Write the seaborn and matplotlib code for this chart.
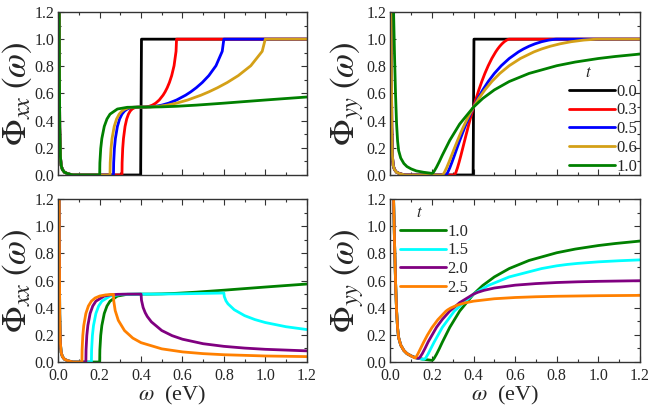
import numpy as np
import pandas as pd
import seaborn as sns
import matplotlib
matplotlib.use('Agg')
import matplotlib.pyplot as plt
from matplotlib.ticker import MultipleLocator, FormatStrFormatter

# ---- data (omega in eV) ----
# narrow low-energy spike (xx panels and yy for t < 1)
w_spike = [0.0, 0.003, 0.005, 0.007, 0.01, 0.014, 0.02, 0.03, 0.045, 0.07]
phi_spike = [5.0, 2.0, 0.9, 0.35, 0.14, 0.07, 0.04, 0.02, 0.01, 0.0]

# wider low-energy spike (yy for t >= 1)
w_spike_yy = [0.0, 0.01, 0.015, 0.02, 0.025, 0.03, 0.035, 0.04, 0.05, 0.065, 0.08, 0.1]
phi_spike_yy = [5.0, 2.0, 1.25, 0.9, 0.6, 0.38, 0.25, 0.18, 0.125, 0.085, 0.062, 0.045]

# t = 0.0
w_t00 = [0.398, 0.402, 1.2]
xx_t00 = [0.0, 1.0, 1.0]
yy_t00 = [0.0, 1.0, 1.0]

# t < 1 curves share the same shape values, only the omega positions move
xx_band = [0.0, 0.0895, 0.1955, 0.2684, 0.3576, 0.4123, 0.448, 0.4712, 0.4857, 0.4941,
           0.4983, 0.4998, 0.5, 0.5002, 0.5017, 0.5059, 0.5143, 0.5288, 0.552, 0.5877,
           0.612, 0.6424, 0.6809, 0.7316, 0.8045, 0.9105, 1.0, 1.0]
yy_band = [0.0, 0.0006, 0.0067, 0.0187, 0.052, 0.0941, 0.1424, 0.1955, 0.2523, 0.3119,
           0.3735, 0.4364, 0.5, 0.5636, 0.6265, 0.6881, 0.7477, 0.8045, 0.8576, 0.9059,
           0.9279, 0.948, 0.9659, 0.9813, 0.9933, 0.9994, 1.0, 1.0]

w_t03 = [0.3077, 0.3084, 0.3113, 0.315, 0.3226, 0.3306, 0.339, 0.3478, 0.3571, 0.367,
         0.3774, 0.3883, 0.4, 0.4124, 0.4255, 0.4396, 0.4545, 0.4706, 0.4878, 0.5063,
         0.5161, 0.5263, 0.5369, 0.5479, 0.5594, 0.569, 0.5714, 1.2]
w_t05 = [0.2667, 0.2676, 0.2712, 0.2759, 0.2857, 0.2963, 0.3077, 0.32, 0.3333, 0.3478,
         0.3636, 0.381, 0.4, 0.4211, 0.4444, 0.4706, 0.5, 0.5333, 0.5714, 0.6154,
         0.64, 0.6667, 0.6957, 0.7273, 0.7619, 0.7921, 0.8, 1.2]
w_t06 = [0.25, 0.2509, 0.2548, 0.2597, 0.2703, 0.2817, 0.2941, 0.3077, 0.3226, 0.339,
         0.3571, 0.3774, 0.4, 0.4255, 0.4545, 0.4878, 0.5263, 0.5714, 0.625, 0.6897,
         0.7273, 0.7692, 0.8163, 0.8696, 0.9302, 0.9852, 1.0, 1.2]

# t = 1.0
w_t10 = [0.2, 0.201, 0.2051, 0.2105, 0.2222, 0.2353, 0.25, 0.2857, 0.3333, 0.4,
         0.4444, 0.5, 0.5714, 0.6667, 0.8, 0.8889, 1.0, 1.0811, 1.2]
xx_t10 = [0.0, 0.0895, 0.1955, 0.2684, 0.3576, 0.4123, 0.448, 0.4857, 0.4983, 0.5,
          0.5002, 0.5017, 0.5059, 0.5143, 0.5288, 0.5392, 0.552, 0.561, 0.5741]
w_t10_yy = [0.125, 0.16, 0.2, 0.2051, 0.2105, 0.2222, 0.2353, 0.25, 0.2857, 0.3333, 0.4,
            0.4444, 0.5, 0.5714, 0.6667, 0.8, 0.8889, 1.0, 1.0811, 1.2]
yy_t10 = [0.03, 0.02, 0.012, 0.016, 0.027, 0.058, 0.098, 0.146, 0.255, 0.375, 0.5,
          0.5636, 0.6265, 0.6881, 0.7477, 0.8045, 0.8316, 0.8576, 0.8725, 0.8904]

# t = 1.5
w_t15 = [0.16, 0.161, 0.1649, 0.1702, 0.1818, 0.1951, 0.2105, 0.25, 0.3077, 0.4, 0.4706,
         0.5714, 0.7273, 0.8, 0.802, 0.81, 0.82, 0.85, 0.9, 0.95, 1.0, 1.1, 1.2]
xx_t15 = [0.0, 0.0895, 0.1955, 0.2684, 0.3576, 0.4123, 0.448, 0.4857, 0.4983, 0.5, 0.5002,
          0.5017, 0.5059, 0.5081, 0.4823, 0.4508, 0.428, 0.3851, 0.3416, 0.3125, 0.2908,
          0.2599, 0.2392]
w_t15_yy = [0.125, 0.145, 0.16, 0.1649, 0.1702, 0.1818, 0.1951, 0.2105, 0.25, 0.3077, 0.4,
            0.4706, 0.5714, 0.7273, 0.8, 0.85, 0.9, 1.0, 1.1, 1.2]
yy_t15 = [0.03, 0.024, 0.02, 0.022, 0.03, 0.06, 0.1, 0.146, 0.255, 0.375, 0.5,
          0.5636, 0.6265, 0.6881, 0.7082, 0.7183, 0.726, 0.7375, 0.7456, 0.7519]

# t = 2.0
w_t20 = [0.1333, 0.1342, 0.1379, 0.1429, 0.1538, 0.1667, 0.1818, 0.2222, 0.25, 0.2857, 0.3333,
         0.4, 0.402, 0.41, 0.42, 0.43, 0.45, 0.5, 0.55, 0.6, 0.7, 0.8, 0.9, 1.0, 1.2]
xx_t20 = [0.0, 0.0895, 0.1955, 0.2684, 0.3576, 0.4123, 0.448, 0.4857, 0.4941, 0.4983, 0.4998,
          0.5, 0.4551, 0.4013, 0.3631, 0.3353, 0.2955, 0.2318, 0.1941, 0.1679, 0.1347, 0.1154,
          0.1026, 0.0936, 0.0822]
w_t20_yy = [0.118, 0.1333, 0.1379, 0.1429, 0.1538, 0.1667, 0.1818, 0.2222, 0.25, 0.2857, 0.3333,
            0.4, 0.42, 0.45, 0.5, 0.6, 0.7, 0.8, 0.9, 1.0, 1.2]
yy_t20 = [0.033, 0.027, 0.028, 0.036, 0.062, 0.1, 0.148, 0.256, 0.314, 0.375, 0.437,
          0.5, 0.5131, 0.5276, 0.5449, 0.5658, 0.5774, 0.5853, 0.5905, 0.594, 0.5986]

# t = 2.5
w_t25 = [0.1143, 0.1151, 0.1185, 0.1231, 0.1333, 0.1455, 0.16, 0.1778, 0.2, 0.2286, 0.2667,
         0.268, 0.275, 0.29, 0.32, 0.36, 0.4, 0.5, 0.6, 0.7, 0.8, 1.0, 1.2]
xx_t25 = [0.0, 0.0895, 0.1955, 0.2684, 0.3576, 0.4123, 0.448, 0.4712, 0.4857, 0.4941, 0.4983,
          0.4492, 0.3787, 0.3069, 0.2314, 0.1762, 0.1424, 0.0969, 0.0746, 0.0617, 0.0537,
          0.0445, 0.0398]
w_t25_yy = [0.11, 0.1143, 0.1185, 0.1231, 0.1333, 0.1455, 0.16, 0.1778, 0.2, 0.2286, 0.2667,
            0.275, 0.29, 0.32, 0.36, 0.4, 0.5, 0.6, 0.7, 0.8, 1.0, 1.2]
yy_t25 = [0.036, 0.033, 0.03, 0.035, 0.062, 0.1, 0.145, 0.197, 0.253, 0.312, 0.3735,
          0.3834, 0.3974, 0.4177, 0.4358, 0.448, 0.4658, 0.475, 0.4805, 0.4841, 0.4882, 0.4906]

labels_top = ['0.0', '0.3', '0.5', '0.6', '1.0']
labels_bot = ['1.0', '1.5', '2.0', '2.5']
colors_top = ['black', '#ff0000', '#0000ff', '#d4a017', '#008000']
colors_bot = ['#008000', '#00ffff', '#800080', '#ff8000']

# ---- assemble curves ----
top_xx = [
    (w_spike + w_t00, phi_spike + xx_t00),
    (w_spike + w_t03, phi_spike + xx_band),
    (w_spike + w_t05, phi_spike + xx_band),
    (w_spike + w_t06, phi_spike + xx_band),
    (w_spike + w_t10, phi_spike + xx_t10),
]
top_yy = [
    (w_spike + w_t00, phi_spike + yy_t00),
    (w_spike + w_t03, phi_spike + yy_band),
    (w_spike + w_t05, phi_spike + yy_band),
    (w_spike + w_t06, phi_spike + yy_band),
    (w_spike_yy + w_t10_yy, phi_spike_yy + yy_t10),
]
bot_xx = [
    (w_spike + w_t10, phi_spike + xx_t10),
    (w_spike + w_t15, phi_spike + xx_t15),
    (w_spike + w_t20, phi_spike + xx_t20),
    (w_spike + w_t25, phi_spike + xx_t25),
]
bot_yy = [
    (w_spike_yy + w_t10_yy, phi_spike_yy + yy_t10),
    (w_spike_yy + w_t15_yy, phi_spike_yy + yy_t15),
    (w_spike_yy + w_t20_yy, phi_spike_yy + yy_t20),
    (w_spike_yy + w_t25_yy, phi_spike_yy + yy_t25),
]

sns.set_style('ticks')
plt.rcParams['font.family'] = ['Liberation Serif', 'DejaVu Serif']
plt.rcParams['mathtext.fontset'] = 'stix'

fig = plt.figure(figsize=(6.54, 4.08), dpi=100)
ax_tl = fig.add_axes([0.0891, 0.5711, 0.3798, 0.3995])
ax_tr = fig.add_axes([0.5968, 0.5711, 0.3818, 0.3995])
ax_bl = fig.add_axes([0.0891, 0.1127, 0.3798, 0.3995])
ax_br = fig.add_axes([0.5968, 0.1127, 0.3818, 0.3995])


def draw(ax, curves, labels, colors):
    for (w, phi), lab, col in zip(curves, labels, colors):
        df = pd.DataFrame({'w': w, 'phi': phi})
        sns.lineplot(data=df, x='w', y='phi', ax=ax, color=col, lw=2.0,
                     label=lab, estimator=None, sort=False, legend=False)


draw(ax_tl, top_xx, labels_top, colors_top)
draw(ax_tr, top_yy, labels_top, colors_top)
draw(ax_bl, bot_xx, labels_bot, colors_bot)
draw(ax_br, bot_yy, labels_bot, colors_bot)

for ax in [ax_tl, ax_tr, ax_bl, ax_br]:
    ax.set_xlim(0, 1.2)
    ax.set_ylim(0, 1.2)
    ax.xaxis.set_major_locator(MultipleLocator(0.2))
    ax.xaxis.set_minor_locator(MultipleLocator(0.1))
    ax.yaxis.set_major_locator(MultipleLocator(0.2))
    ax.yaxis.set_minor_locator(MultipleLocator(0.1))
    ax.xaxis.set_major_formatter(FormatStrFormatter('%.1f'))
    ax.yaxis.set_major_formatter(FormatStrFormatter('%.1f'))
    ax.tick_params(which='both', direction='in', top=True, right=True,
                   labelsize=11.5, width=0.8, color='#333333')
    ax.tick_params(axis='y', pad=3)
    ax.tick_params(axis='x', pad=4.5)
    ax.tick_params(which='major', length=4)
    ax.tick_params(which='minor', length=2)
    for sp in ax.spines.values():
        sp.set_linewidth(1.0)
        sp.set_color('#333333')
    ax.set_xlabel('')

for ax in [ax_tl, ax_tr]:
    ax.tick_params(labelbottom=False)

for ax in [ax_bl, ax_br]:
    ax.set_xlabel(r'$\omega$  (eV)', fontsize=16)
    ax.xaxis.set_label_coords(0.46, -0.135)

for ax, lab in [(ax_tl, r'$\Phi_{xx}\;(\omega)$'), (ax_bl, r'$\Phi_{xx}\;(\omega)$'),
                (ax_tr, r'$\Phi_{yy}\;(\omega)$'), (ax_br, r'$\Phi_{yy}\;(\omega)$')]:
    ax.set_ylabel(lab, fontsize=25, labelpad=0)

leg_kw = dict(frameon=False, fontsize=12, title_fontsize=12, handlelength=2.75,
              handletextpad=0.08, labelspacing=0.17, borderpad=0.0, borderaxespad=0.0,
              alignment='left')
ax_tr.legend(title='    $t$', loc='lower right', bbox_to_anchor=(0.99, 0.0), **leg_kw)
ax_br.legend(title='    $t$', loc='upper left', bbox_to_anchor=(0.04, 0.965), **leg_kw)

fig.savefig('out.png', dpi=100)
